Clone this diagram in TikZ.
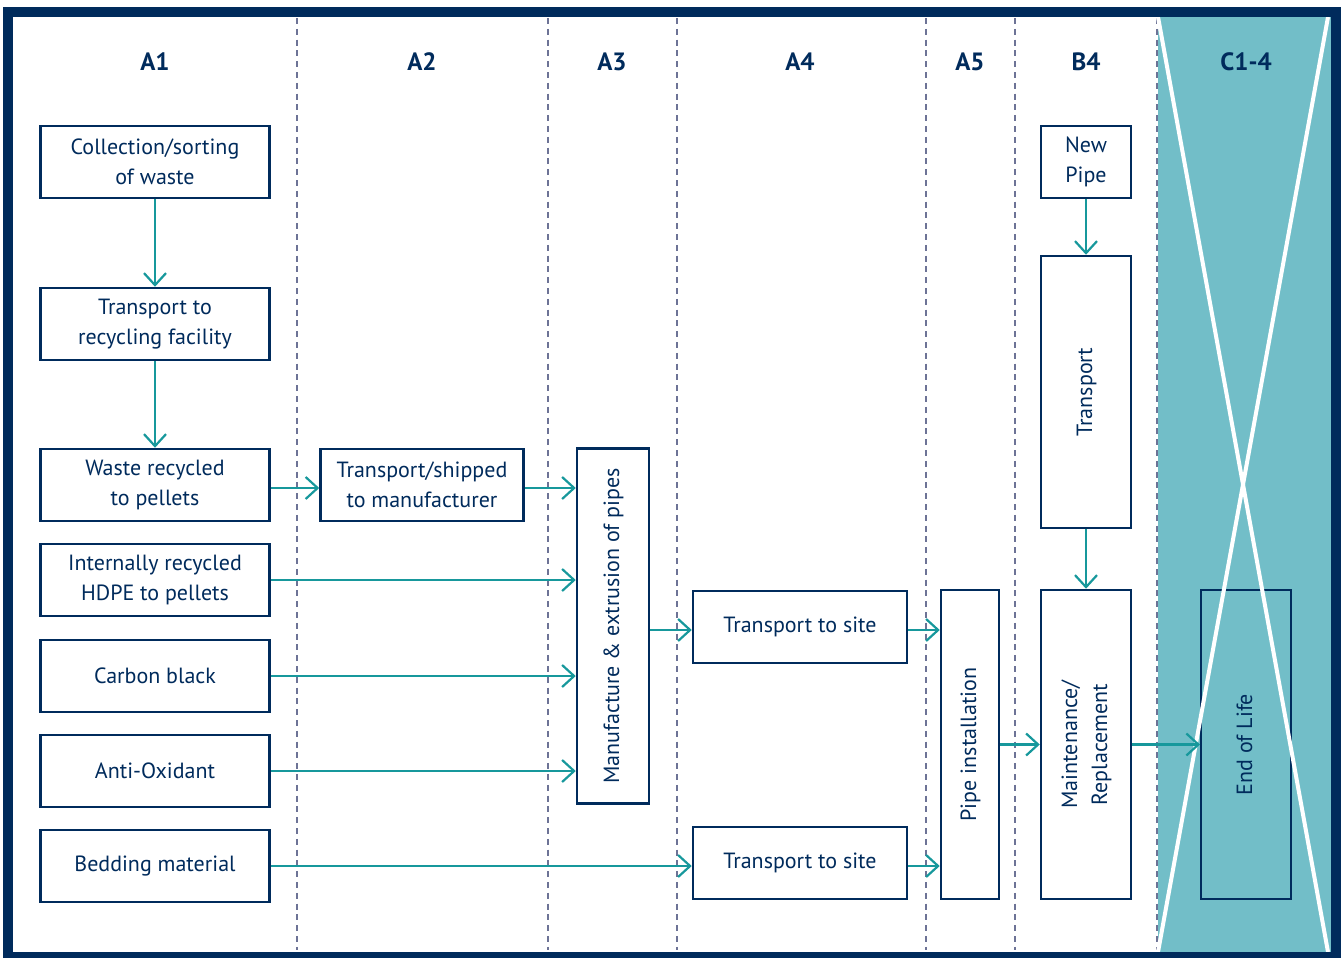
\documentclass[tikz,border=0pt]{standalone}
\usepackage{fontspec}
\setmainfont{PT Sans}
\usetikzlibrary{arrows.meta}

\definecolor{lcnavy}{HTML}{002B5C}
\definecolor{lcteal}{HTML}{17989C}
\definecolor{lcfill}{HTML}{72BEC8}
\definecolor{lcdash}{HTML}{6D7396}

\newcommand{\upright}[1]{\rotatebox{90}{\begin{tabular}{@{}c@{}}#1\end{tabular}}}

\begin{document}
\begin{tikzpicture}[
  x=0.5pt, y=-0.5pt,
  box/.style={draw=lcnavy, line width=1.25pt, fill=white, text=lcnavy, align=center, inner sep=0pt,
    font=\fontsize{11}{15}\selectfont},
  srcbox/.style={box, minimum width=114.5pt, minimum height=36pt},
  sitebox/.style={box, minimum width=107pt, minimum height=36pt},
  narrowbox/.style={box, minimum width=45pt},
  head/.style={text=lcnavy, font=\fontsize{12.5}{15}\selectfont\bfseries},
  divider/.style={draw=lcdash, line width=1.4pt, dash pattern=on 3pt off 2.4pt},
  arrow/.style={-{Straight Barb[length=6pt,width=11pt]}, draw=lcteal, line width=1.1pt}
]
\useasboundingbox (0,0) rectangle (1344,958);
\fill[white] (0,0) rectangle (1344,958);

% C1-4 stage
\fill[lcfill] (1158,17) rectangle (1331,952);

% stage dividers
\foreach \x in {297,548,677,926,1015,1157}
  \draw[divider] (\x,18) -- (\x,950);

% stage headings
\node[head] (hA1) at (155,62) {A1};
\node[head] (hA2) at (422,62) {A2};
\node[head] (hA3) at (612,62) {A3};
\node[head] (hA4) at (800,62) {A4};
\node[head] (hA5) at (970,62) {A5};
\node[head] (hB4) at (1086,62) {B4};
\node[head] (hC) at (1246,62) {C1-4};

% A1
\node[srcbox] (collect) at (155,162) {Collection/sorting\\of waste};
\node[srcbox] (recyc) at (155,324) {Transport to\\recycling facility};
\node[srcbox] (pellets) at (155,485) {Waste recycled\\to pellets};
\node[srcbox] (hdpe) at (155,580) {Internally recycled\\HDPE to pellets};
\node[srcbox] (carbon) at (155,676) {Carbon black};
\node[srcbox] (antiox) at (155,771) {Anti-Oxidant};
\node[srcbox] (bedding) at (155,866) {Bedding material};

% A2, A3
\node[box, minimum width=101.5pt, minimum height=36pt] (shipped) at (422,485) {Transport/shipped\\to manufacturer};
\node[box, minimum width=36pt, minimum height=177.5pt] (manuf) at (613,626) {\upright{Manufacture \& extrusion of pipes}};

% A4, A5
\node[sitebox] (site1) at (800,627) {Transport to site};
\node[sitebox] (site2) at (800,863) {Transport to site};
\node[box, minimum width=29pt, minimum height=154.5pt] (install) at (970,744.5) {\upright{Pipe installation}};

% B4
\node[narrowbox, minimum height=36pt] (newpipe) at (1086,162) {New\\Pipe};
\node[narrowbox, minimum height=136pt] (transp) at (1086,392) {\upright{Transport}};
\node[narrowbox, minimum height=154.5pt] (maint) at (1086,744.5) {\upright{Maintenance/\\Replacement}};

% C1-4
\node[box, fill=none, line width=1pt, minimum width=45pt, minimum height=154.5pt] (eol) at (1246,744.5) {\upright{End of Life}};
\draw[white, line width=2pt] (1158,17) -- (1328,952);
\draw[white, line width=2pt] (1328,17) -- (1158,952);

% flows
\draw[arrow] (collect) -- (recyc);
\draw[arrow] (recyc) -- (pellets);
\path (pellets.east) ++(0,3) coordinate (p);
\draw[arrow] (p) -- (p -| shipped.west);
\path (shipped.east) ++(0,3) coordinate (s);
\draw[arrow] (s) -- (s -| manuf.west);
\draw[arrow] (hdpe.east) -- (hdpe.east -| manuf.west);
\draw[arrow] (carbon.east) -- (carbon.east -| manuf.west);
\draw[arrow] (antiox.east) -- (antiox.east -| manuf.west);
\path (site1.west) ++(0,3) coordinate (m);
\draw[arrow] (m -| manuf.east) -- (m);
\path (site1.east) ++(0,3) coordinate (t1);
\draw[arrow] (t1) -- (t1 -| install.west);
\draw[arrow] (bedding.east) -- (bedding.east -| site2.west);
\path (site2.east) ++(0,3) coordinate (t2);
\draw[arrow] (t2) -- (t2 -| install.west);
\draw[arrow] (install) -- (maint);
\draw[arrow] (newpipe) -- (transp);
\draw[arrow] (transp) -- (maint);
\draw[arrow] (maint) -- (eol);

% frame
\draw[lcnavy, line width=5pt] (8,12) rectangle (1335.5,956.5);
\end{tikzpicture}
\end{document}
